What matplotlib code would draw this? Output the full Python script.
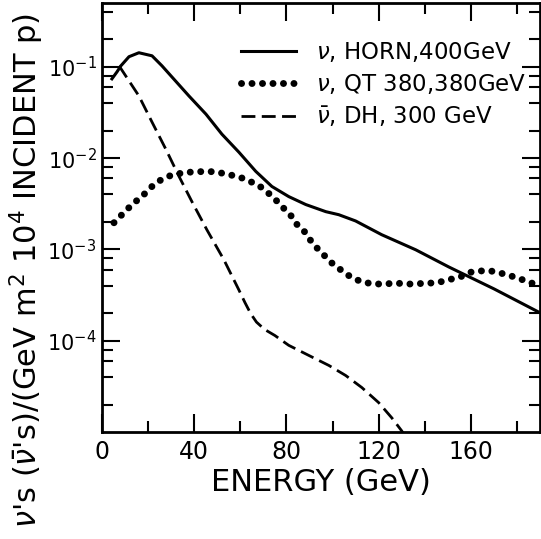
import matplotlib
matplotlib.use("Agg")
import matplotlib.pyplot as plt
from matplotlib.ticker import FixedLocator, FixedFormatter, NullFormatter

plt.rcParams['font.family'] = ['DejaVu Sans']
plt.rcParams['mathtext.fontset'] = 'dejavusans'

# nu, HORN, 400 GeV (solid)
horn_e = [4.3, 6.5, 8.2, 11.7, 16.0, 21.7, 26.0, 30.3, 37.7, 45.1, 52.0, 59.4, 66.7,
          73.7, 81.0, 88.4, 97.1, 102.7, 110.0, 121.3, 136.1, 150.4, 170.0, 189.4]
horn_f = [0.0738, 0.088, 0.1026, 0.129, 0.1426, 0.132, 0.1026, 0.0776, 0.048, 0.0303,
          0.0183, 0.0116, 0.00716, 0.00489, 0.00379, 0.0031, 0.00259, 0.0024, 0.00205,
          0.00145, 0.00099, 0.000643, 0.00037, 0.000206]

# nu, QT 380, 380 GeV (dotted)
qt_e = [5.2, 8.2, 11.3, 13.4, 16.9, 19.9, 23.0, 26.0, 29.9, 36.0, 40.3, 45.1, 49.8,
        54.2, 58.9, 63.3, 68.0, 71.5, 74.1, 77.1, 79.7, 82.8, 84.9, 88.4, 90.6, 93.2,
        96.6, 99.7, 103.1, 107.9, 112.7, 117.9, 122.6, 127.4, 132.2, 136.1, 140.4,
        144.3, 148.6, 151.7, 154.3, 160.3, 164.2, 168.6, 172.5, 176.4, 179.8, 182.9,
        186.4, 190.0]
qt_f = [0.00196, 0.00234, 0.0028, 0.00318, 0.0037, 0.00442, 0.00527, 0.00585, 0.00647,
        0.00698, 0.00705, 0.00716, 0.00705, 0.00664, 0.00631, 0.0057, 0.00501, 0.00431,
        0.0037, 0.00318, 0.00266, 0.00223, 0.00182, 0.00152, 0.00124, 0.00104, 0.00085,
        0.00071, 0.00061, 0.000499, 0.00044, 0.000418, 0.000418, 0.000428, 0.000418,
        0.000418, 0.000428, 0.000428, 0.000451, 0.000474, 0.000486, 0.000566, 0.000581,
        0.000581, 0.000552, 0.000525, 0.000486, 0.000462, 0.000428, 0.000400]

# nubar, DH, 300 GeV (dashed)
dh_e = [7.4, 16.0, 21.7, 27.7, 33.4, 39.0, 45.5, 52.9, 59.4, 62.0, 64.5, 67.0, 70.5,
        75.0, 81.0, 89.7, 98.4, 105.7, 112.7, 120.0, 125.7, 130.0, 130.9]
dh_f = [0.1026, 0.048, 0.0248, 0.0125, 0.00631, 0.00334, 0.00164, 0.000768, 0.000359,
        0.000262, 0.000198, 0.000160, 0.000133, 0.000114, 8.9e-5, 6.9e-5, 5.36e-5,
        4.16e-5, 3.07e-5, 2.1e-5, 1.43e-5, 1.03e-5, 9.5e-6]

x_ticks = [0, 40, 80, 120, 160]
x_minor = [20, 60, 100, 140, 180]
y_ticks = [1e-4, 1e-3, 1e-2, 1e-1]
y_labels = [r'$\mathregular{10^{-4}}$', r'$\mathregular{10^{-3}}$',
            r'$\mathregular{10^{-2}}$', r'$\mathregular{10^{-1}}$']


def dibujar():
    fig = plt.figure(figsize=(5.41, 5.39), dpi=100)
    W, H = 541, 539
    ax = fig.add_axes([102 / W, 1 - 432 / H, (540 - 102) / W, (432 - 3) / H])

    ax.plot(horn_e, horn_f, color='black', lw=2.2,
            label=r'$\nu$, HORN,400GeV')
    ax.plot(qt_e, qt_f, color='black', lw=5, linestyle=(0, (0.01, 1.5)),
            dash_capstyle='round', label=r'$\nu$, QT 380,380GeV')
    ax.plot(dh_e, dh_f, color='black', lw=2, linestyle=(0, (5.0, 2.3)),
            label=r'$\bar{\nu}$, DH, 300 GeV')

    ax.set_yscale('log')
    ax.set_xlim(0, 190)
    ax.set_ylim(1e-5, 0.5)

    ax.xaxis.set_major_locator(FixedLocator(x_ticks))
    ax.xaxis.set_minor_locator(FixedLocator(x_minor))
    ax.yaxis.set_major_locator(FixedLocator(y_ticks))
    ax.yaxis.set_major_formatter(FixedFormatter(y_labels))
    minors = [m * 10.0 ** d for d in range(-5, 0) for m in (2, 4, 6, 8) if m * 10.0 ** d < 0.5]
    ax.yaxis.set_minor_locator(FixedLocator(minors))
    ax.yaxis.set_minor_formatter(NullFormatter())

    ax.tick_params(which='both', direction='in', top=True, right=True, width=1.5)
    ax.tick_params(which='major', length=13)
    ax.tick_params(which='minor', length=8)
    ax.tick_params(axis='x', labelsize=17, pad=6)
    ax.tick_params(axis='y', labelsize=15, pad=4)
    for s in ax.spines.values():
        s.set_linewidth(2)

    ax.set_xlabel('ENERGY (GeV)', fontsize=22)
    ax.xaxis.set_label_coords(0.5, -0.085)

    fig.text(27 / W, 1 - 270 / H,
             r"$\nu$'s $(\bar{\nu}$'s)/(GeV m$^2$ 10$^4$ INCIDENT p)",
             rotation=90, ha='center', va='center', fontsize=22)

    ax.legend(loc='upper right', bbox_to_anchor=(1.0, 0.945), frameon=False,
              fontsize=16.5, handlelength=2.4, handletextpad=0.85, labelspacing=0.35,
              borderaxespad=0.2)

    fig.savefig('out.png', dpi=100)


if __name__ == "__main__":
    dibujar()
